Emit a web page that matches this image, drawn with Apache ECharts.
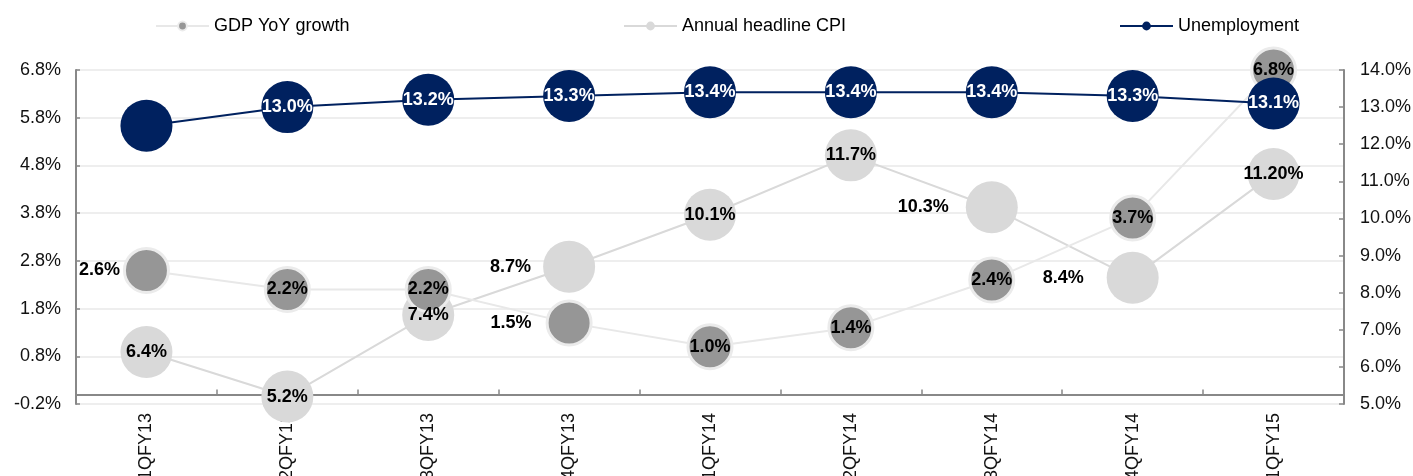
<!DOCTYPE html>
<html>
<head>
<meta charset="utf-8">
<script src="https://cdn.jsdelivr.net/npm/echarts@6/dist/echarts.min.js"></script>
<style>html,body{margin:0;padding:0;background:#fff}#c{width:1413px;height:476px}</style>
</head>
<body>
<div id="c"></div>
<script>
const categories = ['1QFY13','2QFY13','3QFY13','4QFY13','1QFY14','2QFY14','3QFY14','4QFY14','1QFY15'];
const gdpGrowth = [2.6, 2.2, 2.2, 1.5, 1.0, 1.4, 2.4, 3.7, 6.8];
const headlineCPI = [6.4, 5.2, 7.4, 8.7, 10.1, 11.7, 10.3, 8.4, 11.2];
const unemployment = [12.5, 13.0, 13.2, 13.3, 13.4, 13.4, 13.4, 13.3, 13.1];
const cpiLabelText = ['6.4%','5.2%','7.4%','8.7%','10.1%','11.7%','10.3%','8.4%','11.20%'];

const FONT = 'Liberation Sans, Arial, sans-serif';
const chart = echarts.init(document.getElementById('c'));

const gdpLeft = {0: 3, 3: 14};
const cpiLeft = {3: 12, 6: 17, 7: 23};

function labelData(values, leftMap) {
  return values.map((v, i) => {
    const d = { value: v };
    if (leftMap[i] !== undefined) d.label = { position: 'left', distance: leftMap[i] };
    return d;
  });
}
const unData = unemployment.map((v, i) => {
  const d = { value: v };
  if (i === 0) d.label = { show: false };
  return d;
});

const labelBase = { show: true, position: 'inside', fontFamily: FONT, fontSize: 18, fontWeight: 'bold', color: '#000', textBorderWidth: 0, opacity: 1 };
const legendText = { fontFamily: FONT, fontSize: 18, color: '#000' };
const axisLabelStyle = { fontFamily: FONT, fontSize: 18, color: '#111' };
const legendBase = { top: 17, padding: 0, itemWidth: 53, itemHeight: 11, itemGap: 5, textStyle: legendText };

chart.setOption({
  animation: false,
  legend: [
    Object.assign({ data: ['GDP YoY growth'], left: 155 }, legendBase),
    Object.assign({ data: ['Annual headline CPI'], left: 623 }, legendBase),
    Object.assign({ data: ['Unemployment'], left: 1119 }, legendBase)
  ],
  grid: { left: 76, right: 69, top: 70, bottom: 72, containLabel: false, outerBoundsMode: 'none' },
  xAxis: {
    type: 'category',
    data: categories,
    boundaryGap: true,
    axisLine: { onZero: true, lineStyle: { color: '#888', width: 2 } },
    axisTick: { show: true, inside: true, length: 5, lineStyle: { color: '#888', width: 1.5 } },
    axisLabel: Object.assign({ rotate: 90, margin: 9 }, axisLabelStyle),
    splitLine: { show: false }
  },
  yAxis: [
    {
      type: 'value', min: -0.2, max: 6.8, interval: 1,
      axisLine: { show: true, lineStyle: { color: '#888', width: 2 } },
      axisTick: { show: true, inside: true, length: 4, lineStyle: { color: '#888', width: 1.5 } },
      axisLabel: Object.assign({ formatter: v => v.toFixed(1) + '%', margin: 15 }, axisLabelStyle),
      splitLine: { show: true, lineStyle: { color: '#eeeeee', width: 2 } }
    },
    {
      type: 'value', min: 5, max: 14, interval: 1, position: 'right',
      axisLine: { show: true, lineStyle: { color: '#888', width: 2 } },
      axisTick: { show: true, inside: true, length: 5, lineStyle: { color: '#888', width: 1.5 } },
      axisLabel: Object.assign({ formatter: v => v.toFixed(1) + '%', margin: 16 }, axisLabelStyle),
      splitLine: { show: false }
    }
  ],
  series: [
    {
      name: 'Annual headline CPI', type: 'line', yAxisIndex: 1, data: headlineCPI, z: 2,
      symbol: 'circle', symbolSize: 52,
      itemStyle: { color: '#d9d9d9' },
      lineStyle: { color: '#d9d9d9', width: 2 },
      label: { show: false }
    },
    {
      name: 'GDP YoY growth', type: 'line', yAxisIndex: 0, data: gdpGrowth, z: 3,
      symbol: 'circle', symbolSize: 44,
      itemStyle: { color: '#969696', borderColor: '#ebebeb', borderWidth: 3 },
      lineStyle: { color: '#e8e8e8', width: 2 },
      label: { show: false }
    },
    {
      name: 'Unemployment', type: 'line', yAxisIndex: 1, data: unData, z: 4,
      symbol: 'circle', symbolSize: 52,
      itemStyle: { color: '#00215f' },
      lineStyle: { color: '#00215f', width: 2 },
      label: Object.assign({}, labelBase, { color: '#fff', formatter: p => p.value.toFixed(1) + '%' })
    },
    {
      name: 'CPI labels', type: 'scatter', yAxisIndex: 1, data: labelData(headlineCPI, cpiLeft), z: 5,
      symbol: 'circle', symbolSize: 52, silent: true,
      itemStyle: { color: '#d9d9d9', opacity: 0 },
      label: Object.assign({}, labelBase, { formatter: p => cpiLabelText[p.dataIndex] })
    },
    {
      name: 'GDP labels', type: 'scatter', yAxisIndex: 0, data: labelData(gdpGrowth, gdpLeft), z: 5,
      symbol: 'circle', symbolSize: 47, silent: true,
      itemStyle: { color: '#969696', opacity: 0 },
      label: Object.assign({}, labelBase, { formatter: p => p.value.toFixed(1) + '%' })
    }
  ]
});
</script>
</body>
</html>
